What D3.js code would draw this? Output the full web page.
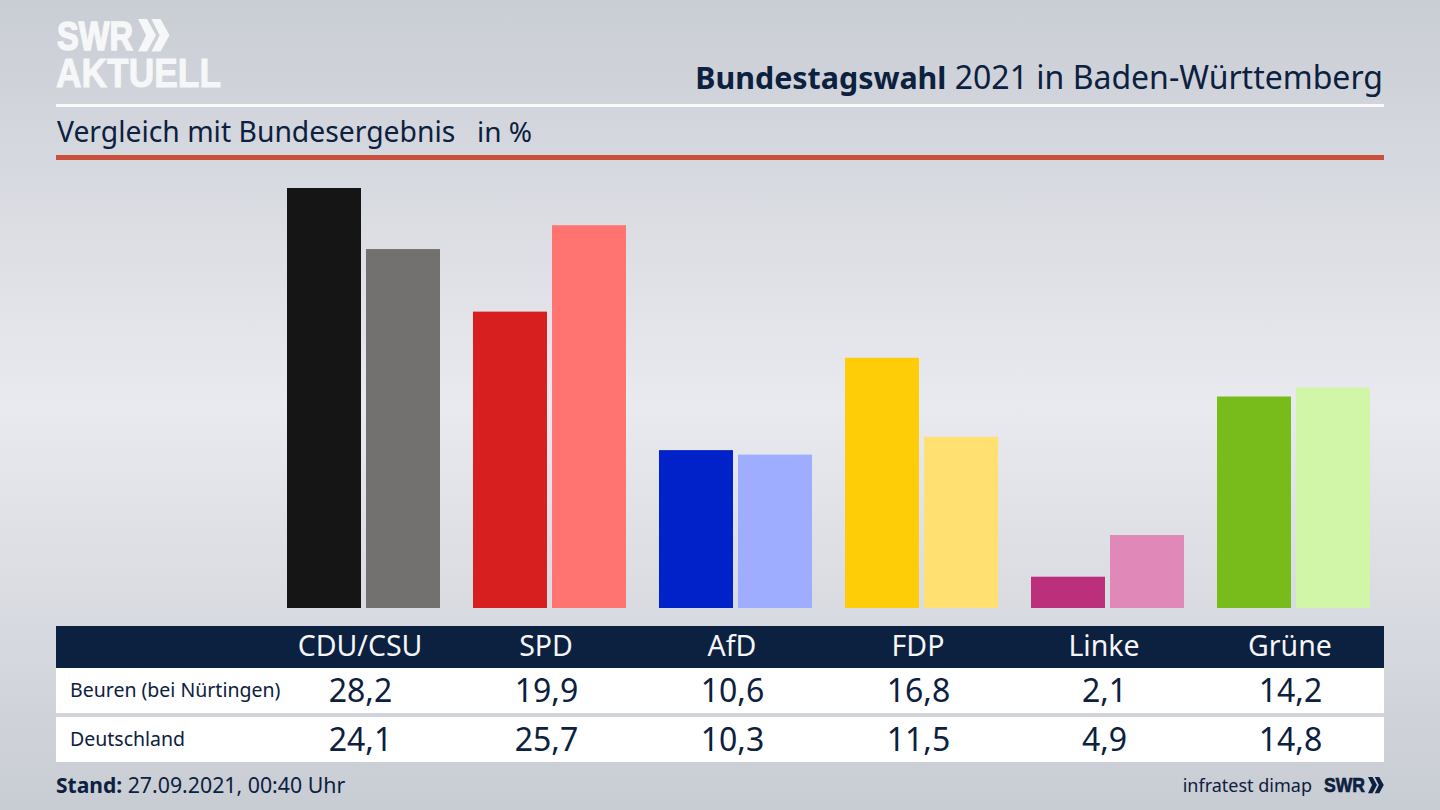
<!DOCTYPE html>
<html>
<head>
<meta charset="utf-8">
<title>Bundestagswahl 2021 in Baden-Württemberg</title>
<script src="https://cdn.jsdelivr.net/npm/d3@7/dist/d3.min.js"></script>
<style>
  html, body { margin: 0; padding: 0; background: #d5d8de; overflow: hidden; }
  svg { display: block; }
  text { font-family: "Noto Sans", "Open Sans", sans-serif; fill: #0c2040; }
</style>
</head>
<body>
<script>
// data
var parties = ["CDU/CSU", "SPD", "AfD", "FDP", "Linke", "Grüne"];
var beuren = [28.2, 19.9, 10.6, 16.8, 2.1, 14.2];
var deutschland = [24.1, 25.7, 10.3, 11.5, 4.9, 14.8];
var beurenColors = ["#151515", "#d71f1f", "#0022c8", "#ffcc08", "#bc2f7a", "#78bc1b"];
var deutschlandColors = ["#72716f", "#ff7370", "#9eadff", "#ffe070", "#e088b8", "#d2f6a8"];
var rowLabels = ["Beuren (bei Nürtingen)", "Deutschland"];

var width = 1440;
var height = 810;
var navy = "#0c2040";
var comma = d3.format(".1f");
function fmt(v) { return comma(v).replace(".", ","); }

var svg = d3.select("body").append("svg")
  .attr("width", width)
  .attr("height", height);

// background gradient
var defs = svg.append("defs");
var grad = defs.append("linearGradient").attr("id", "bg")
  .attr("x1", 0).attr("y1", 0).attr("x2", 0).attr("y2", 1);
grad.append("stop").attr("offset", "0%").attr("stop-color", "#c9cdd4");
grad.append("stop").attr("offset", "50%").attr("stop-color", "#e9eaef");
grad.append("stop").attr("offset", "100%").attr("stop-color", "#c8ccd3");
svg.append("rect").attr("width", width).attr("height", height).attr("fill", "url(#bg)");

// logo top left
svg.append("text").attr("x", 57).attr("y", 50)
  .attr("textLength", 76).attr("lengthAdjust", "spacingAndGlyphs")
  .style("font-family", "'Liberation Sans'").style("font-weight", 700).style("font-size", "41px")
  .style("fill", "#f6f7f8").style("stroke", "#f6f7f8").style("stroke-width", 1.6).text("SWR");
svg.append("text").attr("x", 56).attr("y", 87)
  .attr("textLength", 165).attr("lengthAdjust", "spacingAndGlyphs")
  .style("font-family", "'Liberation Sans'").style("font-weight", 700).style("font-size", "41px")
  .style("fill", "#f6f7f8").style("stroke", "#f6f7f8").style("stroke-width", 1).text("AKTUELL");

function chevrons(x, y, size, color) {
  [0, 0.75].forEach(function (k) {
    var x0 = x + k * size;
    svg.append("path")
      .attr("d", d3.line()([[x0, y], [x0 + size * 0.5, y], [x0 + size, y + size * 0.9], [x0 + size * 0.5, y + size * 1.8], [x0, y + size * 1.8], [x0 + size * 0.45, y + size * 0.9]]) + "Z")
      .attr("fill", color);
  });
}
chevrons(138, 19, 18, "#f6f7f8");

// header
svg.append("text").attr("x", 1383).attr("y", 89).attr("text-anchor", "end")
  .style("font-size", "32px")
  .html('<tspan style="font-weight:700;font-size:30.4px">Bundestagswahl</tspan> 2021 in Baden-Württemberg');
svg.append("rect").attr("x", 56).attr("y", 104).attr("width", 1328).attr("height", 3).attr("fill", "#fbfbfc");
svg.append("text").attr("x", 57).attr("y", 142).style("font-size", "28.3px").text("Vergleich mit Bundesergebnis");
svg.append("text").attr("x", 477).attr("y", 142).style("font-size", "28px").text("in %");
svg.append("rect").attr("x", 56).attr("y", 155).attr("width", 1328).attr("height", 5).attr("fill", "#c9503c");

// scales
var xLabel = d3.scaleBand().domain(parties).range([267, 1383]);
var xBar = d3.scaleBand().domain(parties).range([270.5, 1386.5]).paddingInner(33 / 186).paddingOuter(16.5 / 186);
var xSeries = d3.scaleBand().domain([0, 1]).range([0, xBar.bandwidth()]).paddingInner(5 / 79).paddingOuter(0);
var y = d3.scaleLinear().domain([0, 28.2]).range([608, 188]);

// bars
var groups = svg.selectAll("g.party").data(parties).enter().append("g")
  .attr("class", "party")
  .attr("transform", function (d) { return "translate(" + xBar(d) + ",0)"; });
groups.append("rect")
  .attr("x", xSeries(0)).attr("width", xSeries.bandwidth())
  .attr("y", function (d, i) { return y(beuren[i]); })
  .attr("height", function (d, i) { return y(0) - y(beuren[i]); })
  .attr("fill", function (d, i) { return beurenColors[i]; });
groups.append("rect")
  .attr("x", xSeries(1)).attr("width", xSeries.bandwidth())
  .attr("y", function (d, i) { return y(deutschland[i]); })
  .attr("height", function (d, i) { return y(0) - y(deutschland[i]); })
  .attr("fill", function (d, i) { return deutschlandColors[i]; });

// table
svg.append("rect").attr("x", 56).attr("y", 626).attr("width", 1328).attr("height", 42).attr("fill", navy);
svg.selectAll("text.party").data(parties).enter().append("text")
  .attr("class", "party")
  .attr("x", function (d) { return xLabel(d) + xLabel.bandwidth() / 2; })
  .attr("y", 656).attr("text-anchor", "middle")
  .style("font-size", "28.5px").style("fill", "#f4f5f7")
  .text(function (d) { return d; });

var rowY = [668, 717];
var rows = [beuren, deutschland];
rows.forEach(function (row, r) {
  svg.append("rect").attr("x", 56).attr("y", rowY[r]).attr("width", 1328).attr("height", 45).attr("fill", "#ffffff");
  svg.append("text").attr("x", 70).attr("y", rowY[r] + 29).style("font-size", "19.5px").text(rowLabels[r]);
  svg.selectAll("text.v" + r).data(row).enter().append("text")
    .attr("class", "v" + r)
    .attr("x", function (d, i) { return xLabel(parties[i]) + xLabel.bandwidth() / 2 + 0.5; })
    .attr("y", rowY[r] + 34).attr("text-anchor", "middle")
    .style("font-size", "32px")
    .text(function (d) { return fmt(d); });
});

// footer
svg.append("text").attr("x", 56).attr("y", 793).style("font-size", "21.3px")
  .html('<tspan style="font-weight:700;font-size:21px">Stand:</tspan> 27.09.2021, 00:40 Uhr');
svg.append("text").attr("x", 1312).attr("y", 792).attr("text-anchor", "end").style("font-size", "18px").text("infratest dimap");
svg.append("text").attr("x", 1324).attr("y", 792)
  .attr("textLength", 41).attr("lengthAdjust", "spacingAndGlyphs")
  .style("font-family", "'Liberation Sans'").style("font-weight", 700).style("font-size", "21px")
  .style("stroke", navy).style("stroke-width", 0.7)
  .text("SWR");
chevrons(1368, 777, 9, navy);
</script>
</body>
</html>
